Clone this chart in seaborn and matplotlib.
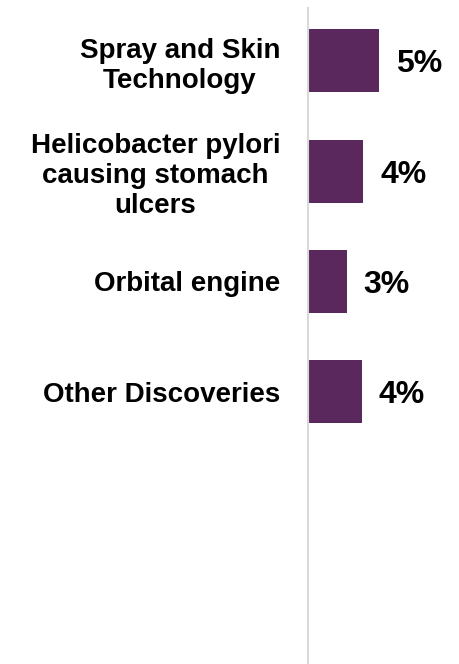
import matplotlib
matplotlib.use("Agg")
import matplotlib.pyplot as plt
import seaborn as sns

# data
categories = ["Spray and Skin\nTechnology",
              "Helicobacter pylori\ncausing stomach\nulcers",
              "Orbital engine",
              "Other Discoveries"]
values = [5.0, 3.9, 2.75, 3.8]
value_labels = ["5%", "4%", "3%", "4%"]

bar_color = "#5B285E"

sns.set_style("white")
plt.rcParams['font.family'] = ['Liberation Sans', 'DejaVu Sans']
plt.rcParams['text.color'] = 'black'
plt.rcParams['ytick.color'] = 'black'

fig = plt.figure(figsize=(4.59, 6.64), dpi=100)
ax = fig.add_axes([308 / 459, 0.0, 1 - 308 / 459, 1 - 8 / 664])

sns.barplot(x=values, y=categories, orient="h", color=bar_color,
            width=0.57, linewidth=0, saturation=1, ax=ax)

ax.set_xlim(0, 10.63)
ax.set_ylim(5.47, -0.48)

txts = ax.bar_label(ax.containers[0], labels=value_labels, padding=12,
                    fontsize=23, fontweight="bold", color="black")
for t in txts:
    t.set_verticalalignment("center_baseline")

for s in ["top", "right", "bottom"]:
    ax.spines[s].set_visible(False)
ax.spines["left"].set_color("#D9D9D9")
ax.spines["left"].set_linewidth(1.5)

ax.set_xticks([])
ax.set_xlabel("")
ax.set_ylabel("")
ax.tick_params(axis="y", length=0, pad=20)
for lbl in ax.get_yticklabels():
    lbl.set_fontsize(20)
    lbl.set_fontweight("bold")
    lbl.set_color("black")
    lbl.set_multialignment("center")
    lbl.set_linespacing(1.2)

fig.savefig("out.png", dpi=100)
